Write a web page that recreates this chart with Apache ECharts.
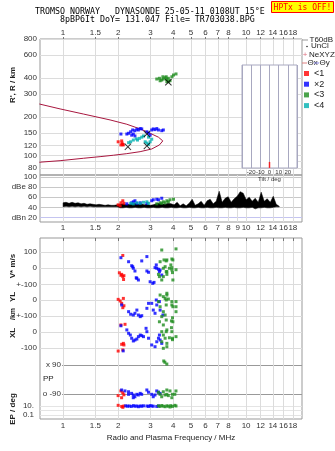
<!DOCTYPE html>
<html><head><meta charset="utf-8">
<script src="https://cdn.jsdelivr.net/npm/echarts@6/dist/echarts.min.js"></script>
<style>html,body{margin:0;padding:0;background:#fff}#c{width:335px;height:451px}</style>
</head><body><div id="c"></div>
<script>
// ---------- axis ticks ----------
const freqTicks = [1,1.5,2,3,4,5,6,7,8,10,12,14,16,18];
const freqTicksMid = [1,1.5,2,3,4,5,6,7,8,9,10,12,14,16,18];
const heightTicks = [80,90,100,120,150,200,300,400,600,800];
const dbTicks = [20,40,60,80,100];
const vTicks = [-100,0,100];
const ylTicks = [0];
const xlTicks = [-100,0,100];
const ppTicks = [-90,90];
const epTicks = [0.1,10];
const epGrid = [0.1,1,10];

// ---------- top panel: virtual height (MHz, km) ----------
const profile = [[0.742,251],[0.963,230],[1.291,210],[1.806,189],[2.229,175],[2.635,161],[2.988,149],[3.318,139],[3.506,130],[3.36,121],[3.052,112.6],[2.635,107.3],[2.229,103.6],[1.883,100.7],[1.593,98.2],[1.291,95.4],[0.963,91.4],[0.742,88.9]];
const htRed = [[2.0,128],[2.09,130],[2.12,122],[2.07,121],[2.13,121],[2.1,125]];
const htBlue = [[2.07,147],[2.23,147],[2.28,149],[2.34,153],[2.40,158],[2.47,156],[2.53,160],[2.58,158],[2.64,162],[2.69,161],[2.42,147],[2.47,142],[2.37,144],[2.87,153],[2.93,149],[2.99,144],[3.05,158],[3.11,161],[3.18,159],[3.25,162],[3.32,158],[3.46,156],[3.53,158]];
const htGreen = [[3.25,392],[3.36,397],[3.46,385],[3.53,392],[3.61,401],[3.69,389],[3.76,374],[3.51,408],[3.39,380],[3.66,408],[3.76,397],[3.93,408],[4.01,421],[4.14,429],[3.84,380],[3.69,374]];
const htCyan = [[2.28,126],[2.34,128],[2.42,132],[2.51,135],[2.55,132],[2.61,136],[2.69,139],[2.75,142],[2.81,128],[2.87,125],[2.93,122],[2.99,128],[3.05,134],[2.93,139]];
const htMark = [[2.87,147],[2.26,117],[2.87,119],[3.76,370]];

// ---------- amplitude panel (dB) ----------
const dbRed = [[2.0,45],[2.07,49],[2.12,53],[2.15,48],[2.05,43]];
const dbBlue = [[2.23,47],[2.37,49],[2.42,51],[2.47,53],[2.53,48],[2.64,49],[2.87,48],[3.05,53],[3.11,55],[3.25,56],[3.32,55],[3.46,58]];
const dbCyan = [[2.34,48],[2.42,47],[2.53,49],[2.64,48],[2.75,50],[2.87,51],[2.93,48]];
const dbGreen = [[3.25,47],[3.39,49],[3.53,51],[3.69,53],[3.84,55],[4.01,56],[3.46,48],[3.61,49],[3.76,51]];
const noiseF = [1.000,1.038,1.078,1.120,1.163,1.208,1.254,1.302,1.352,1.404,1.459,1.515,1.573,1.633,1.696,1.762,1.829,1.900,1.973,2.049,2.128,2.210,2.295,2.383,2.475,2.570,2.669,2.772,2.879,2.990,3.105,3.224,3.348,3.477,3.611,3.750,3.894,4.044,4.200,4.362,4.529,4.704,4.885,5.073,5.268,5.471,5.681,5.900,6.127,6.363,6.608,6.862,7.126,7.401,7.686,7.982,8.289,8.608,8.940,9.284,9.641,10.01,10.40,10.80,11.21,11.65,12.09,12.56,13.04,13.55,14.07,14.61,15.17];
const noiseLo = [41,42,41,42,41,42,41,42,41,42,41,41,41,41,41,41,41,41,41,39,39,40,39,39,40,39,39,40,39,39,40,39,39,40,39,39,40,39,39,40,39,39,40,39,39,40,39,39,40,39,39,40,39,39,40,39,39,40,39,39,40,39,39,40,37,39,39,40,39,39,40,41,41];
const noiseHi = [49,50,48,50,48,49,47,48,46,47,46,45,46,45,44,45,44,44,45,46,47,45,46,47,48,46,47,45,46,44,45,47,48,47,46,48,47,45,50,43,47,43,48,56,44,47,52,44,53,56,47,52,72,50,58,61,50,57,62,71,68,55,60,52,58,50,70,52,57,50,62,46,42];

// ---------- lower panels ----------
const vRed = [[2.12,80],[2.03,-28],[2.09,-38],[2.12,-52],[2.15,-46],[2.14,-70],[2.07,-44]];
const vBlue = [[2.07,66],[2.28,41],[2.37,16],[2.42,0],[2.47,-17],[2.40,10],[2.53,-63],[2.58,-73],[2.51,-59],[2.69,46],[2.87,73],[2.87,-17],[2.93,-25],[2.99,-84],[3.09,-94],[3.14,-88],[3.23,21],[3.25,0],[3.18,4],[3.32,-6],[3.39,-11],[3.46,-42],[3.36,-21]];
const vGreen = [[3.46,114],[3.56,52],[3.66,46],[3.39,41],[3.53,0],[3.32,-38],[3.36,-52],[3.46,-73],[3.53,-52],[3.69,-21],[3.61,10],[4.14,121],[3.69,52],[3.93,58],[3.98,52],[3.88,21],[3.81,0],[3.93,4],[3.93,-11],[4.14,-9],[3.66,-21],[3.69,-38],[3.96,-27],[3.98,-73]];
const ylRed = [[2.0,4],[2.135,10],[2.05,-6],[2.09,-21],[2.15,-36],[2.12,-48]];
const ylBlue = [[2.09,-31],[2.28,-73],[2.34,-89],[2.42,-94],[2.47,-83],[2.53,-63],[2.58,-94],[2.64,-104],[2.69,-98],[2.87,-52],[2.93,-21],[3.05,-21],[3.11,-63],[3.18,-83],[3.25,-31],[3.23,0],[3.36,-10],[3.39,-63],[3.51,-94]];
const ylGreen = [[3.39,31],[3.53,21],[3.61,10],[3.69,42],[3.32,-10],[3.39,-42],[3.53,-73],[3.61,-94],[3.46,-104],[3.66,-125],[3.69,31],[3.76,6],[3.66,0],[3.93,-10],[3.93,-31],[4.14,-10],[4.14,-42],[3.98,-42],[4.14,-73],[3.66,-31]];
const xlRed = [[2.07,44],[2.18,48],[2.135,-71],[2.15,-81],[2.09,-77],[2.0,-119],[2.12,-112]];
const xlBlue = [[2.07,39],[2.23,13],[2.28,-8],[2.33,-19],[2.37,-39],[2.42,-56],[2.47,-50],[2.53,-44],[2.58,-29],[2.64,-19],[2.69,-23],[2.75,-29],[2.87,2],[2.84,23],[2.93,-39],[3.05,-81],[3.18,-92],[3.25,-61],[3.32,-39],[3.36,-19],[3.39,-50],[3.46,-71],[2.13,-118]];
const xlGreen = [[3.36,64],[3.53,44],[3.46,2],[3.53,-19],[3.61,-39],[3.46,-61],[3.69,-71],[3.53,-102],[3.69,13],[3.93,2],[3.66,2],[3.91,27],[3.81,-36],[3.96,-39],[3.96,-48],[4.14,-29],[3.69,-92],[3.96,89],[3.91,69],[3.98,64]];
const ppRed = [[2.07,-71],[2.12,-82],[2.0,-100],[2.09,-113],[2.15,-95]];
const ppBlue = [[2.09,-65],[2.18,-71],[2.28,-76],[2.37,-86],[2.42,-96],[2.47,-107],[2.53,-92],[2.58,-96],[2.64,-86],[2.69,-92],[2.87,-65],[2.93,-79],[3.05,-92],[3.11,-107],[3.18,-96],[3.25,-71],[3.32,-79],[3.39,-86],[2.28,-92],[2.42,-113]];
const ppGreen = [[3.32,-79],[3.39,-92],[3.53,-76],[3.61,-96],[3.46,-107],[3.69,-65],[3.69,-92],[3.76,-100],[3.93,-113],[3.96,-92],[4.14,-71],[4.08,-92],[3.84,-71],[3.55,115],[3.6,107],[3.69,96]];
const epRed = [[2.0,14],[2.09,8],[2.12,5],[2.15,10]];
const epBlue = [[2.2,11],[2.25,9],[2.3,10],[2.36,8],[2.42,12],[2.47,9],[2.53,10],[2.58,7],[2.64,10],[2.69,9],[2.75,11],[2.87,10],[2.93,8],[2.99,12],[3.05,10],[3.11,9],[3.25,8],[3.32,10]];
const epGreen = [[3.32,11],[3.39,8],[3.46,13],[3.53,9],[3.61,7],[3.69,11],[3.76,9],[3.88,12],[3.96,8],[4.14,10],[4.08,14],[3.84,6]];
const tilt = [[0,0.03]];

// ---------- styling ----------
const RED='#ff0000', BLUE='#0000ff', GREEN='#1e8c1e', CYAN='#00b0b0';
const N1='<1', N2='×2', N3='<3', N4='<4';
const FMIN=0.748, FMAX=20.2;
const SANS='"Liberation Sans", Arial, sans-serif';
const LBL={fontSize:8,color:'#333',fontFamily:SANS,showMinLabel:true,showMaxLabel:true};
const GRID_C='#dcdcdc';

function fAxis(grid, extra){
  return Object.assign({type:'log',logBase:10,gridIndex:grid,min:FMIN,max:FMAX,
    axisLine:{show:false},axisTick:{show:false},axisLabel:{show:false},splitLine:{show:false}},extra||{});
}
function sc(name,color,data,xi,yi,size){
  return {type:'scatter',name:name,xAxisIndex:xi,yAxisIndex:yi,data:data,symbol:'rect',
    symbolSize:size||3,itemStyle:{color:color},clip:false,silent:true};
}
const band = noiseF.map((f,i)=>[f,noiseLo[i],noiseHi[i]]);

const option = {
  animation:false,
  textStyle:{fontFamily:SANS},
  grid:[
    {left:40,right:33,top:39,height:136,show:true,borderColor:'#999',borderWidth:1},
    {left:40,right:33,top:175,height:47,show:true,borderColor:'#999',borderWidth:1},
    {left:40,right:33,top:238,height:181,show:true,borderColor:'#999',borderWidth:1},
    {left:40,right:33,top:238,height:62},
    {left:40,right:33,top:284,height:32},
    {left:40,right:33,top:316,height:40},
    {left:62,right:33,top:356,height:44},
    {left:40,right:33,top:400,height:19},
    {left:242,width:55,top:65,height:103,show:true,backgroundColor:'#fff',borderColor:'#a8a8c0',borderWidth:1,z:1}
  ],
  xAxis:[
    fAxis(0,{position:'top',axisLabel:Object.assign({show:true,customValues:freqTicks,margin:2},LBL),
      axisTick:{show:true,customValues:freqTicks,length:2,lineStyle:{color:'#777'}},
      splitLine:{show:true,lineStyle:{color:GRID_C}}}),
    fAxis(1,{position:'bottom',axisLabel:Object.assign({show:true,customValues:freqTicksMid,margin:2},LBL),
      axisTick:{show:false,customValues:freqTicksMid},splitLine:{show:true,lineStyle:{color:GRID_C}}}),
    fAxis(2,{position:'bottom',axisLabel:Object.assign({show:true,customValues:freqTicks,margin:3},LBL),
      axisTick:{show:false,customValues:freqTicks},splitLine:{show:true,lineStyle:{color:GRID_C}},
      name:'Radio and Plasma Frequency / MHz',nameLocation:'middle',nameGap:15,
      nameTextStyle:{fontSize:8,color:'#222',fontFamily:SANS}}),
    fAxis(2,{position:'top',axisTick:{show:true,inside:true,length:3,customValues:freqTicks,lineStyle:{color:'#777'}}}),
    fAxis(3),fAxis(4),fAxis(5),fAxis(6,{min:0.9875}),fAxis(7),
    {type:'value',gridIndex:8,min:-30,max:30,interval:10,z:2,
      axisLine:{show:false},axisTick:{show:false},
      axisLabel:{fontSize:6,color:'#333',margin:1,formatter:v=>Math.abs(v)===30?'':String(v)},
      splitLine:{show:true,lineStyle:{color:'#a8a8c0'}},
      name:'Tilt / deg',nameLocation:'middle',nameGap:7,nameTextStyle:{fontSize:6,color:'#333'}}
  ],
  yAxis:[
    {type:'log',logBase:10,gridIndex:0,min:70.8,max:800,axisLine:{show:false},
      axisTick:{show:false,customValues:heightTicks},
      axisLabel:Object.assign({customValues:heightTicks,margin:3,hideOverlap:false},LBL),
      splitLine:{show:true,lineStyle:{color:GRID_C}}},
    {type:'value',gridIndex:1,min:11,max:104,axisLine:{show:false},
      axisTick:{show:false,customValues:dbTicks},
      axisLabel:Object.assign({customValues:dbTicks,margin:3,
        formatter:v=>v===80?'dBe 80':(v===20?'dBn 20':String(v))},LBL),
      splitLine:{show:true,lineStyle:{color:['#c4c4f0','#c8c8c8','#c8c8c8','#c8c8c8','#c8c8c8']}}},
    {type:'value',gridIndex:2,min:0,max:1,show:false},
    {type:'value',gridIndex:3,min:-198,max:189,axisLine:{show:false},
      axisTick:{show:false,customValues:vTicks},
      axisLabel:Object.assign({customValues:vTicks,margin:3,formatter:v=>v===-100?'+-100':String(v)},LBL),
      splitLine:{show:true,lineStyle:{color:GRID_C}}},
    {type:'value',gridIndex:4,min:-100,max:100,axisLine:{show:false},
      axisTick:{show:false,customValues:ylTicks},
      axisLabel:Object.assign({customValues:ylTicks,margin:3},LBL),
      splitLine:{show:true,lineStyle:{color:GRID_C}}},
    {type:'value',gridIndex:5,min:-150,max:100,axisLine:{show:false},
      axisTick:{show:false,customValues:xlTicks},
      axisLabel:Object.assign({customValues:xlTicks,margin:3,formatter:v=>v===100?'+-100':String(v)},LBL),
      splitLine:{show:true,lineStyle:{color:GRID_C}}},
    {type:'value',gridIndex:6,min:-127.2,max:145.9,axisLine:{show:false},
      axisTick:{show:false,customValues:ppTicks},
      axisLabel:Object.assign({customValues:ppTicks,margin:1,formatter:v=>v===90?'x 90':'o -90'},LBL),
      splitLine:{show:true,lineStyle:{color:'#999'}}},
    {type:'log',logBase:10,gridIndex:7,min:0.0129,max:215,axisLine:{show:false},
      axisTick:{show:false,customValues:epGrid},
      axisLabel:Object.assign({customValues:epTicks,margin:6,formatter:v=>v>=10?'10.':'0.1'},LBL),
      splitLine:{show:true,lineStyle:{color:'#e4e4e4'}}},
    {type:'value',gridIndex:8,min:0,max:1,show:false}
  ],
  legend:{data:[{name:N1,icon:'rect'},{name:N2,icon:'rect'},{name:N3,icon:'rect'},{name:N4,icon:'rect'}],
    orient:'vertical',left:304,top:69,itemWidth:5,itemHeight:5,itemGap:1.7,padding:0,selectedMode:false,
    textStyle:{fontSize:9,lineHeight:7,color:'#222',fontFamily:SANS}},
  series:[
    {type:'line',xAxisIndex:0,yAxisIndex:0,data:profile,showSymbol:false,symbol:'none',
      lineStyle:{color:'#a8173f',width:1},silent:true,z:1},
    sc(N1,RED,htRed,0,0),sc(N2,BLUE,htBlue,0,0),sc(N3,GREEN,htGreen,0,0),sc(N4,CYAN,htCyan,0,0),
    {type:'scatter',xAxisIndex:0,yAxisIndex:0,data:htMark,silent:true,z:3,
      symbol:'path://M0,1L1,0L5,4L9,0L10,1L6,5L10,9L9,10L5,6L1,10L0,9L4,5Z',symbolSize:7,
      itemStyle:{color:'#000'}},
    {type:'custom',xAxisIndex:1,yAxisIndex:1,data:band,silent:true,
      renderItem:function(params,api){
        if(params.dataIndex!==0) return null;
        const pts=[];
        for(let i=0;i<band.length;i++) pts.push(api.coord([band[i][0],band[i][2]]));
        for(let i=band.length-1;i>=0;i--) pts.push(api.coord([band[i][0],band[i][1]]));
        return {type:'polygon',shape:{points:pts},style:{fill:'#000',stroke:'#000',lineWidth:0.5}};
      }},
    sc(N1,RED,dbRed,1,1),sc(N2,BLUE,dbBlue,1,1),sc(N4,CYAN,dbCyan,1,1),sc(N3,GREEN,dbGreen,1,1),
    sc(N1,RED,vRed,4,3),sc(N2,BLUE,vBlue,4,3),sc(N3,GREEN,vGreen,4,3),
    sc(N1,RED,ylRed,5,4),sc(N2,BLUE,ylBlue,5,4),sc(N3,GREEN,ylGreen,5,4),
    sc(N1,RED,xlRed,6,5),sc(N2,BLUE,xlBlue,6,5),sc(N3,GREEN,xlGreen,6,5),
    sc(N1,RED,ppRed,7,6),sc(N2,BLUE,ppBlue,7,6),sc(N3,GREEN,ppGreen,7,6),
    sc(N1,RED,epRed,8,7),sc(N2,BLUE,epBlue,8,7),sc(N3,GREEN,epGreen,8,7),
    {type:'scatter',xAxisIndex:9,yAxisIndex:8,data:tilt,symbol:'rect',symbolSize:[1.5,6],
      itemStyle:{color:RED},silent:true,z:4}
  ],
  graphic:[
    {type:'text',x:35,y:12,style:{text:'TROMSO NORWAY   DYNASONDE 25-05-11 0108UT 15°E',font:'8.3px "DejaVu Sans Mono", monospace',fill:'#000',verticalAlign:'middle'}},
    {type:'text',x:60,y:20,style:{text:'8pBP6It DoY= 131.047 File= TR703038.BPG',font:'8.3px "DejaVu Sans Mono", monospace',fill:'#000',verticalAlign:'middle'}},
    {type:'rect',shape:{x:271.5,y:1.5,width:62,height:11},style:{fill:'#ffff00',stroke:'#ff0000',lineWidth:1}},
    {type:'text',x:302.5,y:7.5,style:{text:'HPTx is OFF!',font:'8px "DejaVu Sans Mono", monospace',fill:'#ff0000',align:'center',verticalAlign:'middle'}},
    {type:'text',x:13,y:85,rotation:Math.PI/2,style:{text:"R', R / km",font:'bold 8px '+SANS,fill:'#222',align:'center',verticalAlign:'middle'}},
    {type:'text',x:13,y:266,rotation:Math.PI/2,style:{text:'V* m/s',font:'bold 8px '+SANS,fill:'#222',align:'center',verticalAlign:'middle'}},
    {type:'text',x:13,y:297,rotation:Math.PI/2,style:{text:'YL',font:'bold 8px '+SANS,fill:'#222',align:'center',verticalAlign:'middle'}},
    {type:'text',x:13,y:314,rotation:Math.PI/2,style:{text:'/km',font:'bold 7px '+SANS,fill:'#222',align:'center',verticalAlign:'middle'}},
    {type:'text',x:13,y:333,rotation:Math.PI/2,style:{text:'XL',font:'bold 8px '+SANS,fill:'#222',align:'center',verticalAlign:'middle'}},
    {type:'text',x:13,y:409,rotation:Math.PI/2,style:{text:'EP / deg',font:'bold 8px '+SANS,fill:'#222',align:'center',verticalAlign:'middle'}},
    {type:'text',x:43,y:379,style:{text:'PP',font:'8px '+SANS,fill:'#222',verticalAlign:'middle'}},
    {type:'line',shape:{x1:302,y1:40,x2:308,y2:40},style:{stroke:'#999',lineWidth:1}},
    {type:'text',x:309.5,y:40,style:{text:'T60dB',font:'8px '+SANS,fill:'#222',verticalAlign:'middle'}},
    {type:'circle',shape:{cx:307,cy:46.5,r:0.7},style:{fill:'#000'}},
    {type:'text',x:311,y:46,style:{text:'UnCl',font:'8px '+SANS,fill:'#222',verticalAlign:'middle'}},
    {type:'text',x:305,y:54.5,style:{text:'+',font:'8px '+SANS,fill:'#e07080',align:'center',verticalAlign:'middle'}},
    {type:'text',x:309,y:54.5,style:{text:'NeXYZ',font:'8px '+SANS,fill:'#222',verticalAlign:'middle'}},
    {type:'line',shape:{x1:302,y1:63,x2:307,y2:63},style:{stroke:'#e08080',lineWidth:1}},
    {type:'text',x:307.5,y:63,style:{text:'Θx',font:'8px '+SANS,fill:'#222',verticalAlign:'middle'}},
    {type:'line',shape:{x1:314,y1:63,x2:319,y2:63},style:{stroke:'#8080e0',lineWidth:1}},
    {type:'text',x:319.5,y:63,style:{text:'Θy',font:'8px '+SANS,fill:'#222',verticalAlign:'middle'}}
  ]
};
const chart = echarts.init(document.getElementById('c'),null,{renderer:'canvas'});
chart.setOption(option);
</script></body></html>
